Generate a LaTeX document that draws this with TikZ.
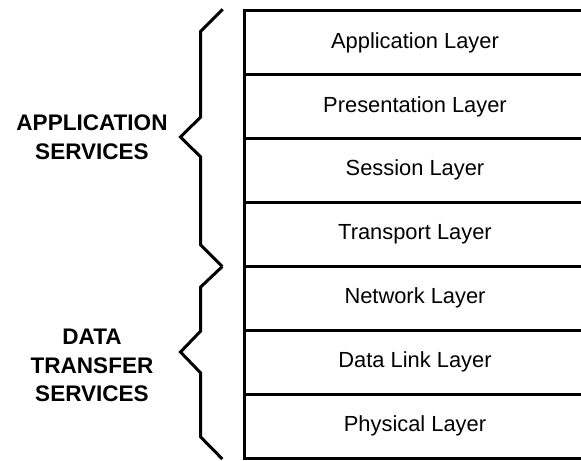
\documentclass[tikz,border=0pt]{standalone}
\usepackage{fontspec}
\setmainfont{Liberation Sans}
\usetikzlibrary{positioning}

\begin{document}
\begin{tikzpicture}[x=0.75pt, y=-0.75pt,
  layer/.style={draw, line width=2.25pt, rectangle, outer sep=0pt, inner sep=0pt,
    minimum width=256.5pt, minimum height=47.9pt, text depth=0.39em,
    font=\fontsize{16.4}{20}\selectfont},
  group/.style={align=center, inner sep=0pt,
    font=\bfseries\fontsize{16.9}{21.6}\selectfont},
  brace/.style={line width=2.25pt}]
  \useasboundingbox (0,0) rectangle (581,460);
  \node[layer] (app) at (415,42.9) {Application Layer};
  \node[layer, below=0pt of app] (pres) {Presentation Layer};
  \node[layer, below=0pt of pres] (sess) {Session Layer};
  \node[layer, below=0pt of sess] (trans) {Transport Layer};
  \node[layer, below=0pt of trans] (net) {Network Layer};
  \node[layer, below=0pt of net] (link) {Data Link Layer};
  \node[layer, below=0pt of link] (phys) {Physical Layer};
  \node[group] (appsrv) at (92,137) {APPLICATION\\SERVICES};
  \node[group] (datasrv) at (92,365.5) {DATA\\TRANSFER\\SERVICES};
  % braces
  \draw[brace] (222.7,9.3) -- (200.7,31.3) -- (200.7,117) -- (180.5,137)
    -- (200.7,157) -- (200.7,245) -- (222.3,266.5);
  \draw[brace] (222.3,266.5) -- (200.7,287) -- (200.7,331) -- (180.5,352)
    -- (200.7,373) -- (200.7,437) -- (222.3,459);
\end{tikzpicture}
\end{document}
